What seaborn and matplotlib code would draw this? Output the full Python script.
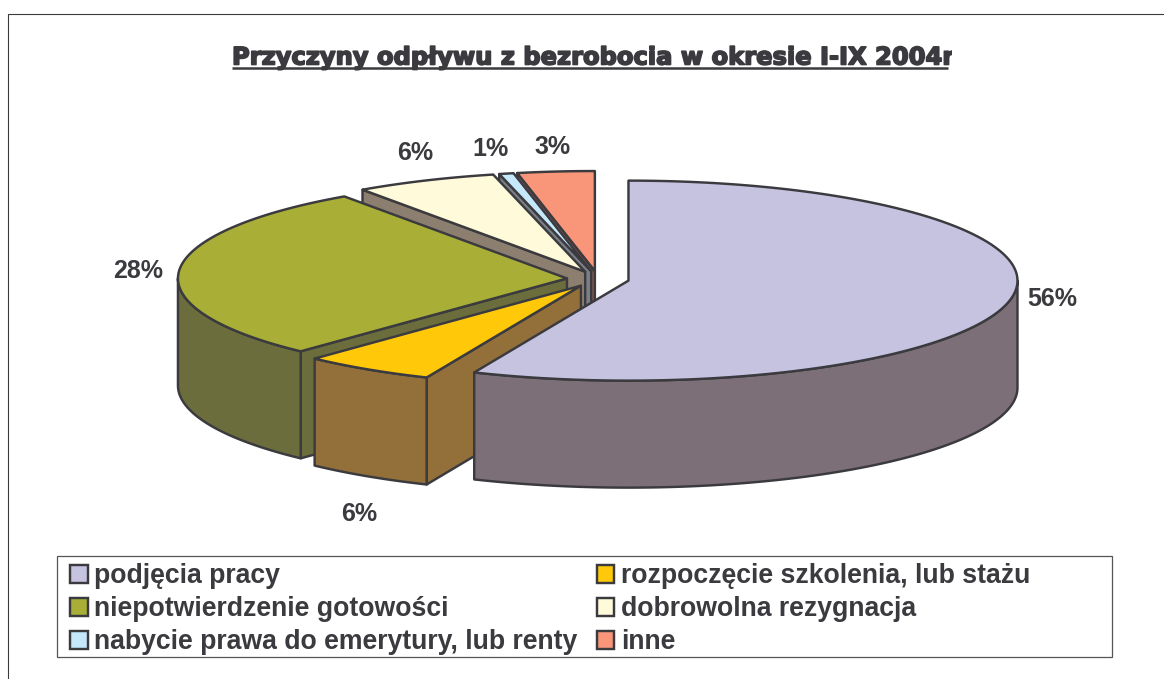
#!/usr/bin/env python3
"""Exploded 3D-look pie: reasons for leaving unemployment, I-IX 2004."""

import matplotlib
matplotlib.use("Agg")
import matplotlib.patheffects as pe
import matplotlib.pyplot as plt
import numpy as np
import seaborn as sns
from matplotlib.patches import Patch, Polygon, Rectangle

CATEGORIES = [
    "podjęcia pracy",
    "rozpoczęcie szkolenia, lub stażu",
    "niepotwierdzenie gotowości",
    "dobrowolna rezygnacja",
    "nabycie prawa do emerytury, lub renty",
    "inne",
]
# they round to the printed 56/6/28/6/1/3
SHARES = [56.49, 5.51, 28.3, 5.9, 0.6, 3.2]
TITLE = "Przyczyny odpływu z bezrobocia w okresie I-IX 2004r"

TOP_COLORS = ["#c6c3e0", "#ffc90a", "#a8ae36", "#fffad9", "#c5e9fb", "#f9967a"]
SIDE_COLORS = ["#7d6f78", "#93703a", "#6b6d3d", "#8d7f6f", "#7b8088", "#8f5a50"]

# layout, in reference pixels
LABEL_POS = [(1052, 299), (359, 514), (138, 271), (415, 153), (490, 149), (553, 147)]
CX, CY = 598, 279
RX, RY = 389, 100
DEPTH = 107
EXPLODE = 0.08
INK = "#3a3a3f"
LW = 1.75

sns.set_theme(style="white")
plt.rcParams["font.family"] = ["Liberation Sans", "DejaVu Sans"]

fig = plt.figure(figsize=(11.64, 6.79), dpi=100)
ax = fig.add_axes([0, 0, 1, 1])
ax.set_xlim(0, 1164)
ax.set_ylim(679, 0)
ax.axis("off")

fractions = np.array(SHARES) / sum(SHARES)
edges = np.concatenate([[0], np.cumsum(fractions)]) * 2 * np.pi


def rim_point(ox, oy, t):
    return np.column_stack([ox + RX * np.sin(t), oy - RY * np.cos(t)])


def draw_slice(i):
    t0, t1 = edges[i], edges[i + 1]
    mid = (t0 + t1) / 2
    ox = CX + EXPLODE * RX * np.sin(mid)
    oy = CY - EXPLODE * RY * np.cos(mid)
    top, side = TOP_COLORS[i], SIDE_COLORS[i]
    style = dict(edgecolor=INK, linewidth=LW, joinstyle="round")

    # cut faces that look towards the viewer
    for t, visible in ((t0, np.sin(t0) < -1e-6), (t1, np.sin(t1) > 1e-6)):
        if visible:
            p = rim_point(ox, oy, np.array([t]))[0]
            ax.add_patch(Polygon(
                [(ox, oy), p, (p[0], p[1] + DEPTH), (ox, oy + DEPTH)],
                facecolor=side, **style))

    # outer wall, front half of the ellipse only
    a, b = max(t0, np.pi / 2), min(t1, 3 * np.pi / 2)
    if b > a:
        arc = rim_point(ox, oy, np.linspace(a, b, 120))
        low = arc[::-1] + [0, DEPTH]
        ax.add_patch(Polygon(np.vstack([arc, low]), facecolor=side, **style))

    arc = rim_point(ox, oy, np.linspace(t0, t1, 160))
    ax.add_patch(Polygon(np.vstack([[(ox, oy)], arc]), facecolor=top, **style))


# painter order: back slices first, the big front one last
for i in [5, 4, 3, 2, 1, 0]:
    draw_slice(i)

for share, (x, y) in zip(SHARES, LABEL_POS):
    ax.text(x, y, f"{share:.0f}%", ha="center", va="center", fontsize=18,
            fontweight="bold", color=INK)

# clipped title, the same way the original cuts off the last letter
title = ax.text(232, 64.5, TITLE, ha="left", va="baseline", fontsize=17.4,
                fontweight="bold", color=INK, family=["DejaVu Sans"],
                path_effects=[pe.withStroke(linewidth=1.2, foreground=INK)])
title.set_clip_path(Rectangle((200, 30), 752, 60, transform=ax.transData))
title.set_clip_on(True)
ax.plot([232, 948], [67.5, 67.5], color=INK, lw=1.8, solid_capstyle="butt")

# outer chart border (left and top only are on the page)
ax.plot([7.5, 7.5, 1164], [679, 14, 14], color=INK, lw=0.8)

ax.add_patch(Rectangle((57, 556), 1055, 101, facecolor="white", edgecolor="#555555", lw=0.9))

palette = sns.color_palette(TOP_COLORS)
handles = [Patch(facecolor=palette[i], edgecolor=INK, linewidth=LW, label=CATEGORIES[i])
           for i in [0, 2, 4, 1, 3, 5]]
ax.legend(handles=handles, ncol=2, loc="upper left", bbox_to_anchor=(62, 555.5),
          bbox_transform=ax.transData, frameon=False, prop=dict(size=19.15, weight="bold"),
          labelcolor=INK, handlelength=0.66, handleheight=0.66, handletextpad=0.25,
          columnspacing=0.72, labelspacing=0.26, borderpad=0.3, borderaxespad=0)

fig.savefig("out.png", dpi=100)
